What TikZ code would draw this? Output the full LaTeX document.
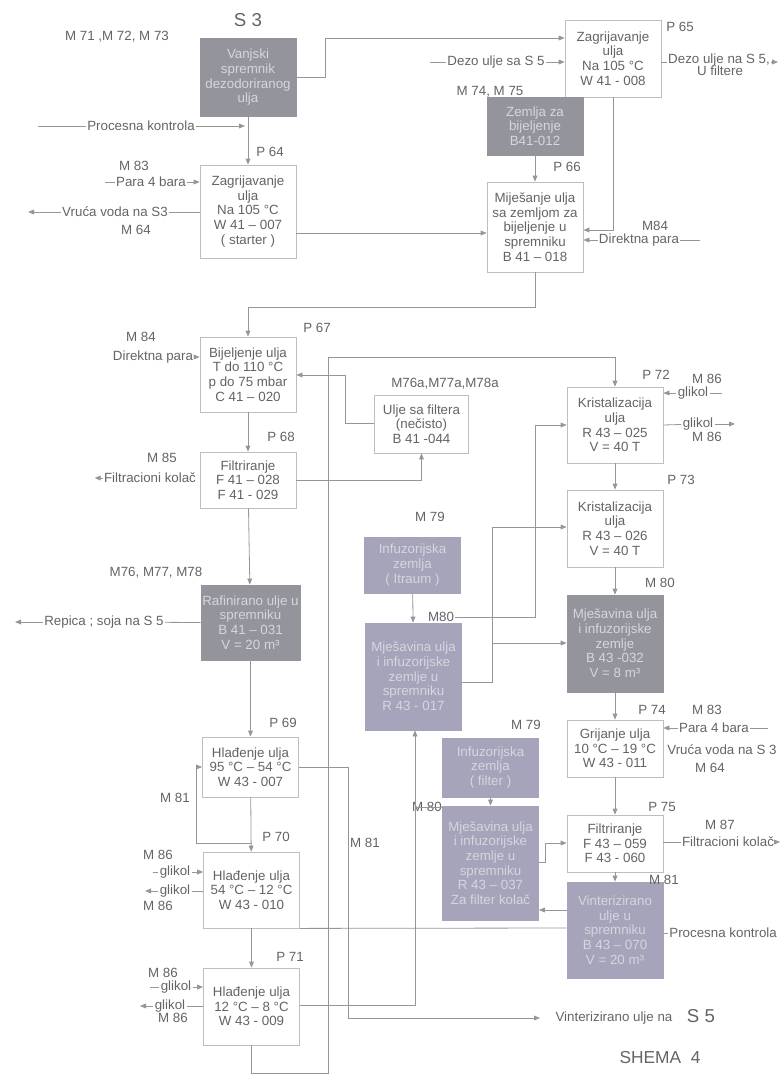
\documentclass[tikz,border=0pt]{standalone}
\usepackage{fontspec}
\setmainfont{Liberation Sans}
\usetikzlibrary{arrows.meta}

\definecolor{lincol}{RGB}{150,150,150}
\definecolor{txtcol}{RGB}{100,100,100}
\definecolor{boxcol}{RGB}{190,190,190}
\definecolor{sivo}{RGB}{148,148,156}
\definecolor{lila}{RGB}{166,164,186}
\definecolor{svjetlo}{RGB}{214,214,222}

\tikzset{every picture/.style={line width=0.6pt}}
\tikzset{
  proc/.style={draw=boxcol,fill=white,text=txtcol,align=center,inner sep=1pt,minimum width=72pt,minimum height=#1},
  proc/.default=45pt,
  tank/.style={proc=#1,draw=sivo,fill=sivo,text=svjetlo},
  tank/.default=45pt,
  lilatank/.style={proc=#1,draw=lila,fill=lila,text=svjetlo},
  lilatank/.default=45pt,
  lbl/.style={text=txtcol,inner sep=0.75pt},
  ln/.style={draw=lincol},
  flow/.style={draw=lincol,-{Triangle[length=4.5pt,width=3.6pt]}}
}

\begin{document}
\begin{tikzpicture}[x=0.75pt,y=0.75pt,yscale=-1,xscale=1,font=\fontsize{10}{11}\selectfont]
\useasboundingbox (0,0) rectangle (780,1089);

%Shape: Rectangle -- gornji dio
\node[tank={59pt}] (vanjski) at (248,77.5) {Vanjski\\spremnik\\dezodoriranog\\ulja};
\node[proc={57.75pt}] (zagr2) at (613,58.5) {Zagrijavanje\\ulja\\Na 105 °C\\W 41 - 008};
\node[tank={43.5pt}] (zemlja) at (535,126) {Zemlja za\\bijeljenje\\B41-012};
\node[proc={67.5pt}] (mijes) at (535,227) {Miješanje ulja\\sa zemljom za\\bijeljenje u\\spremniku\\B 41 -- 018};
\node[proc={69.75pt}] (zagr1) at (248,211.5) {Zagrijavanje\\ulja\\Na 105 °C\\W 41 -- 007\\( starter )};
%Shape: Rectangle -- bijeljenje i filtracija
\node[proc={56.25pt}] (bijelj) at (248,374.5) {Bijeljenje ulja\\T do 110 °C\\p do 75 mbar\\C 41 -- 020};
\node[proc={43.5pt},minimum width=70pt] (uljefilt) at (421.5,424) {Ulje sa filtera\\(nečisto)\\B 41 -044};
\node[proc={42pt}] (filt1) at (248,480) {Filtriranje\\F 41 -- 028\\F 41 - 029};
\node[tank={56.25pt}] (rafin) at (250.5,622.5) {Rafinirano ulje u\\spremniku\\B 41 -- 031\\V = 20 m³};
%Shape: Rectangle -- hladjenje
\node[proc={45pt}] (hlad1) at (250.5,767) {Hlađenje ulja\\95 °C -- 54 °C\\W 43 - 007};
\node[proc={57pt}] (hlad2) at (251.5,890) {Hlađenje ulja\\54 °C -- 12 °C\\W 43 - 010};
\node[proc={57.75pt}] (hlad3) at (251.5,1006.5) {Hlađenje ulja\\12 °C -- 8 °C\\W 43 - 009};
%Shape: Rectangle -- vinterizacija
\node[proc={57pt}] (krist1) at (615,425) {Kristalizacija\\ulja\\R 43 -- 025\\V = 40 T};
\node[proc={57.75pt}] (krist2) at (615,528.5) {Kristalizacija\\ulja\\R 43 -- 026\\V = 40 T};
\node[lilatank={42pt}] (infuz1) at (412.5,565) {Infuzorijska\\zemlja\\( Itraum )};
\node[lilatank={80.25pt}] (mjesav1) at (413.5,676.5) {Mješavina ulja\\i infuzorijske\\zemlje u\\spremniku\\R 43 - 017};
\node[tank={72.75pt}] (mjesav3) at (615,643.5) {Mješavina ulja\\i infuzorijske\\zemlje\\B 43 -032\\V = 8 m³};
\node[proc={42.75pt}] (grij) at (615,748.5) {Grijanje ulja\\10 °C -- 19 °C\\W 43 - 011};
\node[lilatank={44.25pt}] (infuz2) at (490.5,767.5) {Infuzorijska\\zemlja\\( filter )};
\node[lilatank={85.5pt}] (mjesav2) at (490.5,863) {Mješavina ulja\\i infuzorijske\\zemlje u\\spremniku\\R 43 -- 037\\Za filter kolač};
\node[proc={42.75pt}] (filt2) at (615,843.5) {Filtriranje\\F 43 -- 059\\F 43 - 060};
\node[lilatank={72pt}] (vinter) at (615,930) {Vinterizirano\\ulje u\\spremniku\\B 43 -- 070\\V = 20 m³};

% Text Node
\node[lbl,font=\fontsize{14}{16}\selectfont] (lblS3) at (248,20) {S 3};
\node[lbl] (lblM71) at (117,37) {M 71 ,M 72, M 73};
\node[lbl] (lblProc1) at (141,126) {Procesna kontrola};
\node[lbl] (lblP64) at (270,152) {P 64};
\node[lbl] (lblM83a) at (134,166) {M 83};
\node[lbl] (lblPara1) at (151,182) {Para 4 bara};
\node[lbl] (lblVoda1) at (115,212) {Vruća voda na S3};
\node[lbl] (lblM64a) at (136,230) {M 64};
\node[lbl] (lblP65) at (680,27) {P 65};
\node[lbl] (lblDezo1) at (496,62) {Dezo ulje sa S 5};
\node[lbl] (lblDezo2) at (719,60) {Dezo ulje na S 5,};
\node[lbl] (lblFilt) at (720,71) {U filtere};
\node[lbl] (lblM74) at (490,92) {M 74, M 75};
\node[lbl] (lblP66) at (567,167) {P 66};
\node[lbl] (lblM84a) at (655,226) {M84};
\node[lbl] (lblDir1) at (639,240) {Direktna para};
\node[lbl] (lblP67) at (317,328) {P 67};
\node[lbl] (lblM84b) at (141,337) {M 84};
\node[lbl] (lblDir2) at (153,357) {Direktna para};
\node[lbl] (lblM76a) at (445,384) {M76a,M77a,M78a};
\node[lbl] (lblP68) at (281,437) {P 68};
\node[lbl] (lblM85) at (162,458) {M 85};
\node[lbl] (lblKolac1) at (150,478) {Filtracioni kolač};
\node[lbl] (lblM76) at (156,573) {M76, M77, M78};
\node[lbl] (lblRepica) at (104,622) {Repica ; soja na S 5};
\node[lbl] (lblP69) at (283,723) {P 69};
\node[lbl] (lblM81a) at (175,798) {M 81};
\node[lbl] (lblP70) at (276,837) {P 70};
\node[lbl] (lblM86a) at (158,855) {M 86};
\node[lbl] (lblGlik1) at (175,872) {glikol};
\node[lbl] (lblGlik2) at (175,891) {glikol};
\node[lbl] (lblM86b) at (158,906) {M 86};
\node[lbl] (lblP71) at (290,957) {P 71};
\node[lbl] (lblM86c) at (163,973) {M 86};
\node[lbl] (lblGlik3) at (176,987) {glikol};
\node[lbl] (lblGlik4) at (170,1006) {glikol};
\node[lbl] (lblM86d) at (173,1018) {M 86};
\node[lbl] (lblM81b) at (365,843) {M 81};
\node[lbl] (lblP72) at (656,375) {P 72};
\node[lbl] (lblM86e) at (707,379) {M 86};
\node[lbl] (lblGlik5) at (693,393) {glikol};
\node[lbl] (lblGlik6) at (698,424) {glikol};
\node[lbl] (lblM86f) at (707,437) {M 86};
\node[lbl] (lblP73) at (681,480) {P 73};
\node[lbl] (lblM79a) at (430,517) {M 79};
\node[lbl] (lblM80a) at (441,617) {M80};
\node[lbl] (lblM80b) at (660,583) {M 80};
\node[lbl] (lblP74) at (652,710) {P 74};
\node[lbl] (lblM83b) at (707,710) {M 83};
\node[lbl] (lblPara2) at (714,728) {Para 4 bara};
\node[lbl,anchor=west] (lblVoda2) at (666,750) {Vruća voda na S 3};
\node[lbl] (lblM64b) at (710,768) {M 64};
\node[lbl] (lblM79b) at (526,725) {M 79};
\node[lbl] (lblM80c) at (427,807) {M 80};
\node[lbl] (lblP75) at (662,807) {P 75};
\node[lbl] (lblM87) at (720,825) {M 87};
\node[lbl] (lblKolac2) at (728,842) {Filtracioni kolač};
\node[lbl] (lblM81c) at (664,880) {M 81};
\node[lbl,anchor=west] (lblProc2) at (668,933) {Procesna kontrola};
\node[lbl] (lblVint) at (614,1018) {Vinterizirano ulje na};
\node[lbl,font=\fontsize{14}{16}\selectfont] (lblS5) at (701,1016) {S 5};
\node[lbl,font=\fontsize{13}{15}\selectfont] (lblShema) at (660,1058) {SHEMA\ \ 4};

\coordinate (procS) at (38,126);
\coordinate (procE) at (245,126);
\coordinate (dezoS) at (430,62);
\coordinate (dezoE) at (778,62);
\coordinate (vintE) at (540,1018);

%Straight Lines -- gornji dio
\draw[flow] (vanjski) -- (zagr1);
\draw[ln] (procS) -- (lblProc1);
\draw[flow] (lblProc1) -- (procE);
\draw[flow] (vanjski.east) -- (325,77.5) -- (325,38) -- (zagr2.west |- 0,38);
\draw[ln] (dezoS) -- (lblDezo1);
\draw[flow] (lblDezo1) -- (zagr2.west |- 0,62);
\draw[ln] (zagr2.east |- 0,62) -- (lblDezo2.west |- 0,62);
\draw[flow] (lblDezo2.east |- 0,62) -- (dezoE);
\draw[flow] (zemlja) -- (mijes);
\draw[flow] (zagr2.south) -- (zagr2.south |- 0,230) -- (mijes.east |- 0,230);
\draw[ln] (700,240) -- (lblDir1);
\draw[flow] (lblDir1) -- (mijes.east |- 0,240);
\draw[flow] (zagr1.east |- 0,233) -- (mijes.west |- 0,233);
\draw[ln] (105,182) -- (lblPara1);
\draw[flow] (lblPara1) -- (zagr1.west |- 0,182);
\draw[ln] (zagr1.west |- 0,212) -- (lblVoda1);
\draw[flow] (lblVoda1) -- (28,212);
\draw[flow] (mijes.south) -- (mijes.south |- 0,307) -- (bijelj.north |- 0,307) -- (bijelj.north);

%Straight Lines -- bijeljenje i filtracija
\draw[flow] (lblDir2) -- (bijelj.west |- 0,357);
\draw[flow] (bijelj) -- (filt1);
\draw[flow] (uljefilt.west |- 0,423) -- (345,423) -- (345,375) -- (bijelj.east |- 0,375);
\draw[flow] (filt1.east) -- (uljefilt.south |- filt1.east) -- (uljefilt.south);
\draw[flow] (lblKolac1.west) -- ++(-8,0);
\draw[flow] (filt1) -- (rafin);
\draw[ln] (rafin.west) -- (lblRepica);
\draw[flow] (lblRepica) -- (15,622);
\draw[flow] (rafin) -- (hlad1);

%Straight Lines -- hladjenje
\draw[flow] (hlad1) -- (hlad2);
\draw[flow] (hlad2) -- (hlad3);
\draw[flow] (250.5,843) -- (196,843) -- (196,767) -- (hlad1.west);
\draw[flow] (hlad1.east) -- (348,767) -- (348,1018) -- (vintE);
\draw[ln] (hlad2.south east) -- (vinter.west |- 0,928);
\draw[ln] (153,872) -- (lblGlik1);
\draw[flow] (lblGlik1) -- (hlad2.west |- 0,872);
\draw[ln] (hlad2.west |- 0,891) -- (lblGlik2);
\draw[flow] (lblGlik2) -- (145,891);
\draw[ln] (150,987) -- (lblGlik3);
\draw[flow] (lblGlik3) -- (hlad3.west |- 0,987);
\draw[ln] (hlad3.west |- 0,1006) -- (lblGlik4);
\draw[flow] (lblGlik4) -- (140,1006);
\draw[flow] (hlad3.south) -- (hlad3.south |- 0,1073) -- (328,1073) -- (328,357) -- (krist1.north |- 0,357) -- (krist1.north);
\draw[flow] (hlad3.east |- 0,1005) -- (415,1005) -- (415,0 |- mjesav1.south);

%Straight Lines -- vinterizacija
\draw[flow] (krist1) -- (krist2);
\draw[flow] (krist2) -- (mjesav3);
\draw[flow] (mjesav3) -- (grij);
\draw[flow] (grij) -- (filt2);
\draw[flow] (filt2) -- (vinter);
\draw[flow] (lblGlik5) -- (krist1.east |- 0,393);
\draw[ln] (722,393) -- (lblGlik5);
\draw[ln] (krist1.east) -- (lblGlik6);
\draw[flow] (lblGlik6) -- (735,424);
\draw[flow] (infuz1) -- (mjesav1);
\draw[flow] (lblM80a.east) -- (535,617) -- (535,425) -- (krist1.west);
\draw[flow] (mjesav1.east |- 0,682) -- (492,682) -- (492,527) -- (krist2.west |- 0,527);
\draw[flow] (492,643) -- (mjesav3.west |- 0,643);
\draw[flow] (lblPara2) -- (grij.east |- 0,728);
\draw[ln] (768,728) -- (lblPara2);
\draw[flow] (infuz2) -- (mjesav2);
\draw[ln] (415,807) -- (mjesav2.west |- 0,807);
\draw[flow] (mjesav2.east |- 0,862) -- (545,862) -- (545,843) -- (filt2.west |- 0,843);
\draw[flow] (vinter.west |- 0,910) -- (mjesav2.east |- 0,910);
\draw[ln] (filt2.east |- 0,842) -- (lblKolac2);
\draw[flow] (lblKolac2) -- (780,842);
\draw[ln] (vinter.east |- 0,933) -- (lblProc2);

\end{tikzpicture}
\end{document}
